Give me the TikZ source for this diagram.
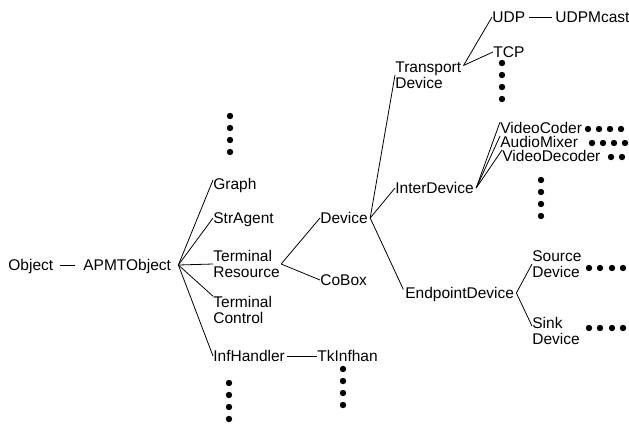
\documentclass[tikz,border=0pt]{standalone}
\usepackage{fontspec}
\setmainfont{Liberation Sans}
\usepackage{tikz}

\begin{document}
\begin{tikzpicture}[x=1pt, y=-1pt, line width=.8pt,
    font=\fontsize{15.5}{15.5}\selectfont,
    cls/.style={anchor=west, inner sep=0pt, text height=11pt, text depth=0pt},
    cls2/.style={anchor=west, inner sep=0pt, align=left}]
  \useasboundingbox (0,0) rectangle (629,424);
  % left part
  \node [cls] at (8,265) (obj) {Object};
  \node [cls] at (83,265) (apmt) {APMTObject};
  \node [cls] at (213,184) (graph) {Graph};
  \node [cls] at (213,218) (stragent) {StrAgent};
  \node [cls2] at (213,264) (tres) {Terminal\\Resource};
  \node [cls2] at (213,310) (tctrl) {Terminal\\Control};
  \node [cls] at (213,356) (infh) {InfHandler};
  \node [cls] at (317,356) (tkinf) {TkInfhan};
  \node [cls] at (320,218) (device) {Device};
  \node [cls] at (320,280) (cobox) {CoBox};
  % devices
  \node [cls2] at (395,75) (tdev) {Transport\\Device};
  \node [cls] at (395,188) (interdev) {InterDevice};
  \node [cls] at (405,293) (endpt) {EndpointDevice};
  \node [cls] at (492,17) (udp) {UDP};
  \node [cls] at (555,17) (udpm) {UDPMcast};
  \node [cls] at (493,52) (tcp) {TCP};
  \node [cls] at (500,128) (vcoder) {VideoCoder};
  \node [cls] at (500,142) (amixer) {AudioMixer};
  \node [cls] at (502,156) (vdecoder) {VideoDecoder};
  \node [cls2] at (532,264) (srcdev) {Source\\Device};
  \node [cls2] at (532,331) (sinkdev) {Sink\\Device};

  \coordinate (apmtB) at ([xshift=7pt]apmt.east);
  \coordinate (tresB) at ([xshift=1pt]tres.east);
  \coordinate (devB) at ([xshift=2pt]device.east);
  \coordinate (tdevB) at ([xshift=2pt, yshift=-4pt]tdev.north east);
  \coordinate (interB) at ([xshift=2pt]interdev.east);
  \coordinate (endB) at ([xshift=2pt]endpt.east);

  \draw [shorten <=6pt, shorten >=8pt] (obj) -- (apmt);
  \draw (apmtB) -- ([yshift=4pt]graph.west);
  \draw (apmtB) -- (stragent.west);
  \draw (apmtB) -- (tres.west);
  \draw (apmtB) -- (tctrl.north west);
  \draw (apmtB) -- (infh.west);
  \draw [shorten <=2pt] (infh) -- (tkinf);
  \draw (tresB) -- (device.west);
  \draw (tresB) -- (cobox.west);
  \draw (devB) -- (tdev.west);
  \draw (devB) -- (interdev.west);
  \draw [shorten >=4pt] (devB) -- (endpt.west);
  \draw (tdevB) -- (udp.west);
  \draw (tdevB) -- (tcp.west);
  \draw [shorten <=3pt, shorten >=3pt] (udp) -- (udpm);
  \draw (interB) -- (vcoder.north west);
  \draw (interB) -- (amixer.north west);
  \draw (interB) -- (vdecoder.north west);
  \draw (endB) -- (srcdev.west);
  \draw (endB) -- ([yshift=5pt]sinkdev.west);

  % the dots
  \fill (230,116) circle (3.2pt) (230,128) circle (3.2pt)
    (230,140) circle (3.2pt) (230,152) circle (3.2pt);
  \fill (229,383) circle (3.2pt) (229,395) circle (3.2pt)
    (229,407) circle (3.2pt) (229,419) circle (3.2pt);
  \fill (343,369) circle (3.2pt) (343,381) circle (3.2pt)
    (343,393) circle (3.2pt) (343,405) circle (3.2pt);
  \fill (502,63) circle (3.2pt) (502,75) circle (3.2pt)
    (502,87) circle (3.2pt) (502,99) circle (3.2pt);
  \fill (541,180) circle (3.2pt) (541,192) circle (3.2pt)
    (541,204) circle (3.2pt) (541,216) circle (3.2pt);
  \fill (588,129) circle (3.2pt) (599,129) circle (3.2pt)
    (610,129) circle (3.2pt) (621,129) circle (3.2pt);
  \fill (592,143) circle (3.2pt) (603,143) circle (3.2pt)
    (614,143) circle (3.2pt) (625,143) circle (3.2pt);
  \fill (611,157) circle (3.2pt) (622,157) circle (3.2pt);
  \fill (589,268) circle (3.2pt) (600,268) circle (3.2pt)
    (612,268) circle (3.2pt) (623,268) circle (3.2pt);
  \fill (589,328) circle (3.2pt) (600,328) circle (3.2pt)
    (612,328) circle (3.2pt) (623,328) circle (3.2pt);
\end{tikzpicture}
\end{document}
